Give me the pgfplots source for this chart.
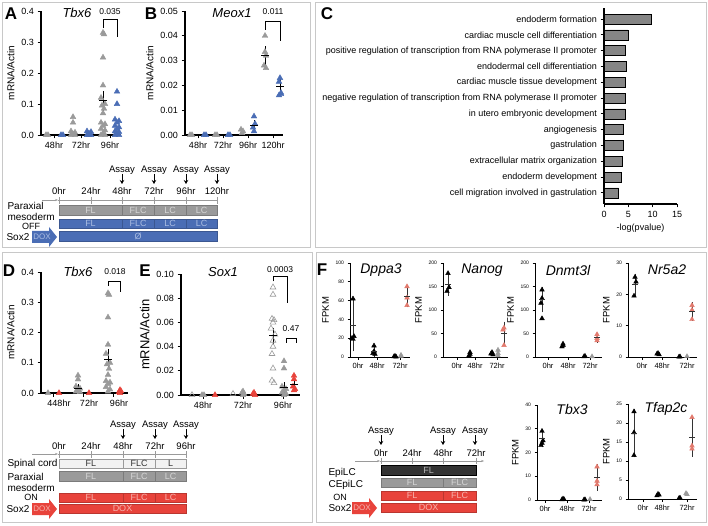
\documentclass[border=0pt]{standalone}
\usepackage{pgfplots}
\pgfplotsset{compat=1.18}
\usepackage{fontspec}
\setmainfont{Liberation Sans}
\usetikzlibrary{arrows.meta}
\definecolor{gr}{HTML}{9A9A9A}
\definecolor{grl}{HTML}{D6D6D6}
\definecolor{bl}{HTML}{4A6DB5}
\definecolor{bll}{HTML}{A9BCE2}
\definecolor{rd}{HTML}{E8433B}
\definecolor{rdl}{HTML}{F6B3AD}
\definecolor{rf}{HTML}{E27A6E}
\definecolor{fr}{HTML}{C8C8C8}
\definecolor{dk}{HTML}{333333}
\definecolor{spc}{HTML}{F2F2F2}
\definecolor{epl}{HTML}{B5B5B5}
\definecolor{cbar}{HTML}{858585}
\newcommand{\fs}[1]{\fontsize{#1}{#1}\selectfont}
\pgfplotsset{
  gp/.style={scale only axis, anchor=south west, axis lines*=left,
    axis line style={line width=1.1pt,-}, every tick/.style={black,line width=0.9pt},
    tick align=outside, major tick length=3.5pt, clip=false, scaled y ticks=false, scaled x ticks=false,
    /pgf/number format/assume math mode=true,
    tick label style={font=\fs{9}}, ylabel style={font=\fs{10}}},
  fp/.style={gp, axis line style={line width=0.8pt,-}, every tick/.style={black,line width=0.6pt},
    major tick length=2.5pt, yticklabel style={font=\fs{5}}, xticklabel style={font=\fs{7.5}},
    ylabel style={font=\fs{9.5}}, ylabel={FPKM}, ymin=0},
  tri/.style={only marks, mark=triangle*, mark size=3.3pt, mark options={draw=#1, fill=#1, solid}},
  ftri/.style={only marks, mark=triangle*, mark size=2.7pt, mark options={draw=#1, fill=#1, solid}},
  otri/.style={only marks, mark=triangle, mark size=3.3pt, mark options={draw=gr, fill=white, line width=0.6pt}},
  mean/.style 2 args={only marks, mark=-, mark size=#2, mark options={draw=#1, line width=0.9pt},
    error bars/.cd, y dir=both, y explicit, error bar style={#1, line width=0.7pt},
    error mark options={#1, mark size=2pt, line width=0.7pt}},
}
\newcommand{\seg}[8]{%
  \filldraw[fill=#5, draw=#8, line width=0.3pt] (#1,#3) rectangle (#2,#4);
  \node[text=#6, font=\fs{9}] at ({(#1+#2)/2},{(#3+#4)/2}) {#7};}
\newcommand{\doxarrow}[4]{%
  \fill[#3] (#1,#2-6) -- (#1+17,#2-6) -- (#1+17,#2-10) -- (#1+25,#2) -- (#1+17,#2+10) -- (#1+17,#2+6) -- (#1,#2+6) -- cycle;
  \node[text=#4, font=\fs{8}] at (#1+10,#2) {DOX};}
\newcommand{\assay}[2]{%
  \node[font=\fs{9.5}] at (#1,#2) {Assay};
  \draw[line width=0.8pt, -{Stealth[length=4pt,width=4.5pt]}] (#1,#2+4) -- (#1,#2+14);}
\begin{document}
\begin{tikzpicture}
\useasboundingbox (0,0) rectangle (708pt,525pt);
\begin{scope}[x=1pt,y=-1pt,yshift=525pt]
% frames
\draw[fr, line width=0.8pt] (2,2) rectangle (310,247);
\draw[fr, line width=0.8pt] (315,2) rectangle (706,247);
\draw[fr, line width=0.8pt] (2,252) rectangle (312,522);
\draw[fr, line width=0.8pt] (316,252) rectangle (706,522);
% panel letters
\node[font=\bfseries\fs{17}] at (11,14) {A};
\node[font=\bfseries\fs{17}] at (151,14) {B};
\node[font=\bfseries\fs{17}] at (327,14) {C};
\node[font=\bfseries\fs{17}] at (9,271) {D};
\node[font=\bfseries\fs{17}] at (145,271) {E};
\node[font=\bfseries\fs{17}] at (322,270) {F};
% titles
\node[font=\itshape\fs{13}] at (77,13) {Tbx6};
\node[font=\itshape\fs{13}] at (232,13) {Meox1};
\node[font=\itshape\fs{13}] at (78,272) {Tbx6};
\node[font=\itshape\fs{13}] at (223,272) {Sox1};
\node[font=\itshape\fs{14}] at (381,270) {Dppa3};
\node[font=\itshape\fs{14}] at (482,270) {Nanog};
\node[font=\itshape\fs{14}] at (568,270) {Dnmt3l};
\node[font=\itshape\fs{14}] at (667,270) {Nr5a2};
\node[font=\itshape\fs{14}] at (572,409) {Tbx3};
\node[font=\itshape\fs{14}] at (666,409) {Tfap2c};
% ---- A/B timeline
\draw[gr, line width=0.6pt, -{Stealth[length=3pt]}] (42,200) -- (58,200);
\draw[gr, line width=0.6pt] (58,200) -- (217,200);
\foreach \t/\l in {59/0hr,91/24hr,122/48hr,154/72hr,186/96hr,217/120hr}{
  \draw[gr, line width=0.5pt] (\t,197) -- (\t,204);
  \node[font=\fs{9.5}] at (\t,191) {\l};}
\assay{122}{170}\assay{154}{170}\assay{186}{170}\assay{217}{170}
\seg{59}{122}{205}{215}{gr}{grl}{FL}{gr!80!black}\seg{122}{154}{205}{215}{gr}{grl}{FLC}{gr!80!black}
\seg{154}{186}{205}{215}{gr}{grl}{LC}{gr!80!black}\seg{186}{217}{205}{215}{gr}{grl}{LC}{gr!80!black}
\seg{59}{122}{219}{228}{bl}{bll}{FL}{bl!80!black}\seg{122}{154}{219}{228}{bl}{bll}{FLC}{bl!80!black}
\seg{154}{186}{219}{228}{bl}{bll}{LC}{bl!80!black}\seg{186}{217}{219}{228}{bl}{bll}{LC}{bl!80!black}
\seg{59}{217}{231}{241}{bl}{bll}{Ø}{bl!80!black}
\node[font=\fs{10}, anchor=west] at (4,206) {Paraxial};
\node[font=\fs{10}, anchor=west] at (4,217) {mesoderm};
\node[font=\fs{9}] at (31,226) {OFF};
\node[font=\fs{10}, anchor=west] at (3,237) {Sox2};
\doxarrow{32}{237}{bl}{bll}
% ---- D/E timeline
\draw[gr, line width=0.6pt, -{Stealth[length=3pt]}] (32,454) -- (58,454);
\draw[gr, line width=0.6pt] (58,454) -- (186,454);
\foreach \t/\l in {59/0hr,91/24hr,123/48hr,155/72hr,186/96hr}{
  \draw[gr, line width=0.5pt] (\t,451) -- (\t,458);
  \node[font=\fs{9.5}] at (\t,446) {\l};}
\assay{123}{425}\assay{155}{425}\assay{186}{425}
\seg{59}{123}{459}{468}{spc}{dk}{FL}{gr}\seg{123}{155}{459}{468}{spc}{dk}{FLC}{gr}\seg{155}{186}{459}{468}{spc}{dk}{L}{gr}
\seg{59}{123}{471}{481}{gr}{grl}{FL}{gr!80!black}\seg{123}{155}{471}{481}{gr}{grl}{FLC}{gr!80!black}\seg{155}{186}{471}{481}{gr}{grl}{LC}{gr!80!black}
\seg{59}{123}{493}{502}{rd}{rdl}{FL}{rd!80!black}\seg{123}{155}{493}{502}{rd}{rdl}{FLC}{rd!80!black}\seg{155}{186}{493}{502}{rd}{rdl}{LC}{rd!80!black}
\seg{59}{186}{504}{513}{rd}{rdl}{DOX}{rd!80!black}
\node[font=\fs{10}, anchor=west] at (4,464) {Spinal cord};
\node[font=\fs{10}, anchor=west] at (4,477) {Paraxial};
\node[font=\fs{10}, anchor=west] at (4,488) {mesoderm};
\node[font=\fs{9}] at (31,497) {ON};
\node[font=\fs{10}, anchor=west] at (3,509) {Sox2};
\doxarrow{32}{509}{rd}{rdl}
% ---- F timeline
\draw[gr, line width=0.6pt, -{Stealth[length=3pt]}] (355,461) -- (380,461);
\draw[gr, line width=0.6pt, -{Stealth[length=3pt]}] (380,461) -- (484,461);
\foreach \t/\l in {381/0hr,412/24hr,443/48hr,476/72hr}{
  \draw[gr, line width=0.5pt] (\t,458) -- (\t,464);
  \node[font=\fs{9.5}] at (\t,453) {\l};}
\assay{381}{431}\assay{443}{431}\assay{475}{431}
\seg{381}{476}{465}{475}{dk}{epl}{FL}{black}
\seg{381}{443}{478}{487}{gr}{grl}{FL}{gr!80!black}\seg{443}{476}{478}{487}{gr}{grl}{FLC}{gr!80!black}
\seg{381}{443}{491}{500}{rd}{rdl}{FL}{rd!80!black}\seg{443}{476}{491}{500}{rd}{rdl}{FLC}{rd!80!black}
\seg{381}{476}{503}{512}{rd}{rdl}{DOX}{rd!80!black}
\node[font=\fs{10}, anchor=west] at (325,473) {EpiLC};
\node[font=\fs{10}, anchor=west] at (325,485) {CEpiLC};
\node[font=\fs{9}] at (340,497) {ON};
\node[font=\fs{10}, anchor=west] at (325,508) {Sox2};
\doxarrow{352}{508}{rd}{rdl}
\end{scope}

% ===== A
\begin{axis}[gp, at={(41pt,390pt)}, width=80pt, height=124pt, xmin=0, xmax=80, ymin=0, ymax=0.4,
  ytick={0,0.1,0.2,0.3,0.4}, yticklabels={0.0,0.1,0.2,0.3,0.4},
  xtick={13,40,69}, xticklabels={48hr,72hr,96hr}, ylabel={mRNA/Actin}]
\addplot[tri=gr] coordinates {(5,0)(7,0)(32,0.058)(32,0.04)(30,0.012)(34,0.008)(32,0.003)(30,0)(34,0)
 (62,0.33)(63,0.325)(62,0.25)(62,0.16)(60,0.12)(64,0.1)(61,0.095)(63,0.085)(62,0.07)(60,0.04)(64,0.035)(62,0.03)(60,0.02)(64,0.015)(62,0.005)(60,0)(64,0)};
\addplot[tri=bl] coordinates {(20,0)(22,0)(46,0.012)(50,0.01)(48,0.005)(46,0)(50,0)(48,0)
 (76,0.14)(76,0.1)(74,0.05)(78,0.045)(76,0.04)(74,0.03)(78,0.025)(76,0.02)(74,0.012)(78,0.01)(76,0.005)(74,0)(78,0)};
\addplot[mean={black}{4pt}] coordinates {(62,0.11) +- (0,0.026)};
\draw[line width=0.6pt] (axis cs:62,0.345) |- (axis cs:76,0.374) -- (axis cs:76,0.316);
\node[font=\fs{8.5}] at (axis cs:69,0.397) {0.035};
\end{axis}
% ===== B
\begin{axis}[gp, at={(185pt,390pt)}, width=98pt, height=124pt, xmin=0, xmax=98, ymin=0, ymax=0.05,
  ytick={0,0.01,0.02,0.03,0.04,0.05}, yticklabels={0.00,0.01,0.02,0.03,0.04,0.05},
  xtick={13,38,63,88}, xticklabels={48hr,72hr,96hr,120hr}, ylabel={mRNA/Actin}]
\addplot[tri=gr] coordinates {(5,0)(7,0)(30,0)(32,0)(56,0.0022)(58,0.0015)(57,0.0008)(80,0.040)(80,0.0335)(81,0.032)(79,0.028)(81,0.027)};
\addplot[tri=bl] coordinates {(19,0)(21,0)(43,0)(45,0)(69,0.0075)(70,0.0045)(68,0.003)(69,0.0015)(95,0.023)(94,0.0215)(96,0.017)(94,0.016)(96,0.0165)};
\addplot[mean={black}{4pt}] coordinates {(69,0.004) +- (0,0.0012) (80,0.032) +- (0,0.003) (95,0.0195) +- (0,0.003)};
\draw[line width=0.6pt] (axis cs:80,0.0425) |- (axis cs:95,0.046) -- (axis cs:95,0.038);
\node[font=\fs{8.5}] at (axis cs:88,0.0497) {0.011};
\end{axis}
% ===== C
\begin{axis}[gp, at={(604pt,321pt)}, width=73pt, height=196pt, xmin=0, xmax=15, ymin=0.3, ymax=12.7,
  xtick={0,5,10,15}, ytick={1,2,3,4,5,6,7,8,9,10,11,12},
  yticklabels={cell migration involved in gastrulation, endoderm development, extracellular matrix organization, gastrulation, angiogenesis, in utero embryonic development, negative regulation of transcription from RNA polymerase II promoter, cardiac muscle tissue development, endodermal cell differentiation, positive regulation of transcription from RNA polymerase II promoter, cardiac muscle cell differentiation, endoderm formation},
  yticklabel style={font=\fs{9}}, xlabel={-log(pvalue)}, xlabel style={font=\fs{9}}]
\addplot[xbar, bar width=10pt, fill=cbar, draw=black, line width=0.5pt] coordinates {(3.0,1)(3.6,2)(3.8,3)(3.9,4)(4.0,5)(4.4,6)(4.4,7)(4.4,8)(4.5,9)(4.3,10)(4.9,11)(9.7,12)};
\end{axis}
% ===== D
\begin{axis}[gp, at={(41pt,132pt)}, width=87pt, height=121pt, xmin=0, xmax=87, ymin=0, ymax=0.4,
  ytick={0,0.1,0.2,0.3,0.4}, yticklabels={0.0,0.1,0.2,0.3,0.4},
  xtick={12,42,72}, xticklabels={448hr,72hr,96hr}, xticklabel style={xshift=6pt}, ylabel={mRNA/Actin}]
\addplot[tri=gr] coordinates {(7,0)(37,0.058)(37,0.045)(35,0.022)(39,0.015)(37,0.01)(35,0.005)(39,0.003)(67,0.33)(68,0.325)(67,0.25)(67,0.16)(65,0.13)(69,0.1)(66,0.095)(68,0.08)(67,0.06)(65,0.04)(69,0.035)(67,0.03)(65,0.02)(69,0.012)(67,0.005)};
\addplot[tri=rd] coordinates {(18,0)(48,0)(79,0.01)(80,0.006)(78,0.003)(79,0)};
\addplot[mean={black}{4pt}] coordinates {(37,0.015) +- (0,0.007) (67,0.11) +- (0,0.028)};
\draw[line width=0.6pt] (axis cs:67,0.355) |- (axis cs:79,0.37) -- (axis cs:79,0.333);
\node[font=\fs{8.5}] at (axis cs:74,0.40) {0.018};
\end{axis}
% ===== E
\begin{axis}[gp, at={(181pt,130pt)}, width=119pt, height=121pt, xmin=0, xmax=119, ymin=0, ymax=0.1,
  ytick={0,0.02,0.04,0.06,0.08,0.1}, yticklabels={0.00,0.02,0.04,0.06,0.08,0.10},
  xtick={22,62,102}, xticklabels={48hr,72hr,96hr}, ylabel={mRNA/Actin}, ylabel style={font=\fs{13}}]
\addplot[otri] coordinates {(11,0)(52,0.001)(92,0.089)(92,0.083)(91,0.063)(93,0.062)(92,0.06)(90,0.055)(94,0.05)(92,0.045)(92,0.04)(91,0.034)(92,0.022)(91,0.012)(93,0.01)};
\addplot[tri=gr] coordinates {(21,0)(23,0)(62,0.003)(61,0.002)(63,0.001)(62,0)(103,0.028)(103,0.022)(101,0.007)(105,0.005)(103,0.004)(101,0.002)(105,0.001)(103,0)};
\addplot[tri=rd] coordinates {(34,0)(73,0.002)(72,0.001)(74,0)(113,0.016)(113,0.013)(112,0.007)(114,0.005)(113,0.004)};
\addplot[mean={black}{4pt}] coordinates {(92,0.049) +- (0,0.005) (103,0.006) +- (0,0.003) (113,0.009) +- (0,0.002)};
\draw[line width=0.6pt] (axis cs:92,0.094) |- (axis cs:106,0.098) -- (axis cs:106,0.076);
\node[font=\fs{8.5}] at (axis cs:99,0.104) {0.0003};
\draw[line width=0.6pt] (axis cs:105,0.043) |- (axis cs:115,0.047) -- (axis cs:115,0.043);
\node[font=\fs{8.5}] at (axis cs:110,0.055) {0.47};
\end{axis}
% ===== F: Dppa3
\begin{axis}[fp, at={(350pt,168pt)}, width=60pt, height=94pt, xmin=0, xmax=60, ymax=100,
  ytick={0,20,40,60,80,100}, xtick={8,27,50}, xticklabels={0hr,48hr,72hr}]
\addplot[ftri=black] coordinates {(3,62)(4,22)(2,20)(3,19)(24,12)(24,6)(23,4)(25,3)(45,1)(44,0.5)(46,0.3)};
\addplot[ftri=gr] coordinates {(51,2)(51,1)};
\addplot[ftri=rf] coordinates {(57,75)(57,63)(57,55)};
\addplot[mean={dk}{3pt}] coordinates {(3,34) +- (0,26) (24,6) +- (0,4) (57,64) +- (0,9)};
\end{axis}
% Nanog
\begin{axis}[fp, at={(443pt,168pt)}, width=65pt, height=94pt, xmin=0, xmax=65, ymax=200,
  ytick={0,50,100,150,200}, xtick={14,32,54}, xticklabels={0hr,48hr,72hr}]
\addplot[ftri=black] coordinates {(5,178)(6,148)(4,140)(27,10)(27,6)(26,3)(49,10)(48,7)(50,5)};
\addplot[ftri=gr] coordinates {(55,15)(55,8)(55,3)};
\addplot[ftri=rf] coordinates {(61,62)(60,58)(61,25)};
\addplot[mean={dk}{3pt}] coordinates {(5,155) +- (0,20) (61,50) +- (0,21)};
\end{axis}
% Dnmt3l
\begin{axis}[fp, at={(535pt,168pt)}, width=67pt, height=94pt, xmin=0, xmax=67, ymax=200,
  ytick={0,50,100,150,200}, xtick={13,33,55}, xticklabels={0hr,48hr,72hr}]
\addplot[ftri=black] coordinates {(7,143)(7,125)(6,115)(7,82)(28,28)(28,25)(27,22)(50,2)(49,1)};
\addplot[ftri=gr] coordinates {(57,1)};
\addplot[ftri=rf] coordinates {(62,48)(62,40)(62,35)};
\addplot[mean={dk}{3pt}] coordinates {(7,122) +- (0,23) (62,41) +- (0,6)};
\end{axis}
% Nr5a2
\begin{axis}[fp, at={(628pt,168pt)}, width=69pt, height=94pt, xmin=0, xmax=69, ymax=30,
  ytick={0,10,20,30}, xtick={14,34,59}, xticklabels={0hr,48hr,72hr}]
\addplot[ftri=black] coordinates {(7,25.5)(8,24)(6,19.5)(30,1.2)(29,1)(31,0.8)(52,0.1)(51,0.05)};
\addplot[ftri=gr] coordinates {(59,0.2)};
\addplot[ftri=rf] coordinates {(64,16.5)(64,15)(64,12)};
\addplot[mean={dk}{3pt}] coordinates {(7,23) +- (0,3) (64,14.5) +- (0,2.3)};
\end{axis}
% Tbx3
\begin{axis}[fp, at={(537pt,25pt)}, width=65pt, height=95pt, xmin=0, xmax=65, ymax=40,
  ytick={0,10,20,30,40}, xtick={8,30,52}, xticklabels={0hr,48hr,72hr}]
\addplot[ftri=black] coordinates {(5,29)(6,25)(5,24)(4,23)(26,0.5)(27,0.3)(25,0.2)(48,0.2)(47,0.1)};
\addplot[ftri=gr] coordinates {(53,0.3)};
\addplot[ftri=rf] coordinates {(60,14)(60,8)(60,6.5)};
\addplot[mean={dk}{3pt}] coordinates {(5,26) +- (0,3) (60,9.5) +- (0,4.7)};
\end{axis}
% Tfap2c
\begin{axis}[fp, at={(628pt,26pt)}, width=69pt, height=95pt, xmin=0, xmax=69, ymax=25,
  ytick={0,5,10,15,20,25}, xtick={15,34,59}, xticklabels={0hr,48hr,72hr}]
\addplot[ftri=black] coordinates {(6,23)(6,17.5)(6,11.5)(30,1.3)(31,1.1)(29,0.9)(52,0.3)(51,0.2)};
\addplot[ftri=gr] coordinates {(58,1.5)(59,1.2)};
\addplot[ftri=rf] coordinates {(64,21.5)(64,14)(64,13.2)};
\addplot[mean={dk}{3pt}] coordinates {(6,17.3) +- (0,5.8) (64,16.2) +- (0,4.6)};
\end{axis}
\end{tikzpicture}
\end{document}
